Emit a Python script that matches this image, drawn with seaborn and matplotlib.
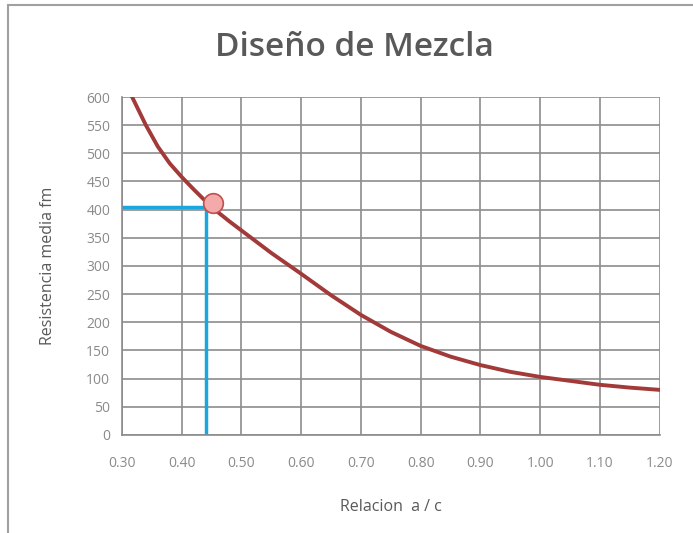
import matplotlib
matplotlib.use('Agg')
import matplotlib.pyplot as plt
import seaborn as sns
import pandas as pd
from matplotlib.patches import Rectangle

# Curva de diseño
relacion = [0.317, 0.34, 0.36, 0.38, 0.40, 0.42, 0.44, 0.46, 0.48, 0.50,
            0.55, 0.60, 0.65, 0.70, 0.75, 0.80, 0.85, 0.90, 0.95, 1.00,
            1.05, 1.10, 1.15, 1.20]
resistencia = [600, 550, 512, 482, 458, 436, 415, 396, 379, 363,
               323, 286, 248, 213, 183, 158, 139, 124, 112, 103,
               96, 89, 84, 80]

# Punto de diseño y líneas guía
punto_x = [0.452]
punto_y = [412]
guia_x = [0.30, 0.44, 0.44]
guia_y = [405, 405, 0]

xticks = [0.30, 0.40, 0.50, 0.60, 0.70, 0.80, 0.90, 1.00, 1.10, 1.20]
yticks = list(range(0, 601, 50))

df = pd.DataFrame({'x': relacion, 'y': resistencia})

sns.set_style('white')
plt.rcParams['font.family'] = ['Open Sans', 'DejaVu Sans']

fig = plt.figure(figsize=(6.93, 5.33), dpi=100)
ax = fig.add_axes([0.176, 0.184, 0.776, 0.634])

gris = '#595959'
ax.grid(True, color='#8c8c8c', linewidth=1.2)
ax.set_axisbelow(True)

sns.lineplot(x=guia_x, y=guia_y, ax=ax, color='#1aa7e0', linewidth=2.5,
             sort=False, estimator=None)
sns.lineplot(data=df, x='x', y='y', ax=ax, color='#a33a3a', linewidth=2.8,
             estimator=None)
sns.scatterplot(x=punto_x, y=punto_y, ax=ax, s=200, color='#f4aaaa',
                edgecolor='#c0504d', linewidth=1.2, zorder=5)

ax.set_xlim(0.30, 1.20)
ax.set_ylim(0, 600)
ax.set_xticks(xticks)
ax.set_xticklabels([f'{v:.2f}' for v in xticks])
ax.set_yticks(yticks)
ax.tick_params(axis='both', colors='#8c8c8c', labelcolor='#8a8a8a',
               labelsize=10, length=5, width=1.2, direction='out')
ax.tick_params(axis='x', pad=10)
for s in ['top', 'right']:
    ax.spines[s].set_visible(False)
for s in ['left', 'bottom']:
    ax.spines[s].set_color('#8c8c8c')
    ax.spines[s].set_linewidth(1.2)

ax.set_xlabel('Relacion  a / c', color=gris, fontsize=11.5, labelpad=20)
ax.set_ylabel('Resistencia media fm', color=gris, fontsize=11.5, labelpad=22)
fig.text(0.512, 0.91, 'Diseño de Mezcla', color=gris, fontsize=24,
         fontweight='semibold', ha='center', va='center')

fig.patches.append(Rectangle((0.012, -0.01), 1.0, 1.0, transform=fig.transFigure,
                             fill=False, edgecolor='#a0a0a0', linewidth=1.5))

fig.savefig('out.png', dpi=100)
